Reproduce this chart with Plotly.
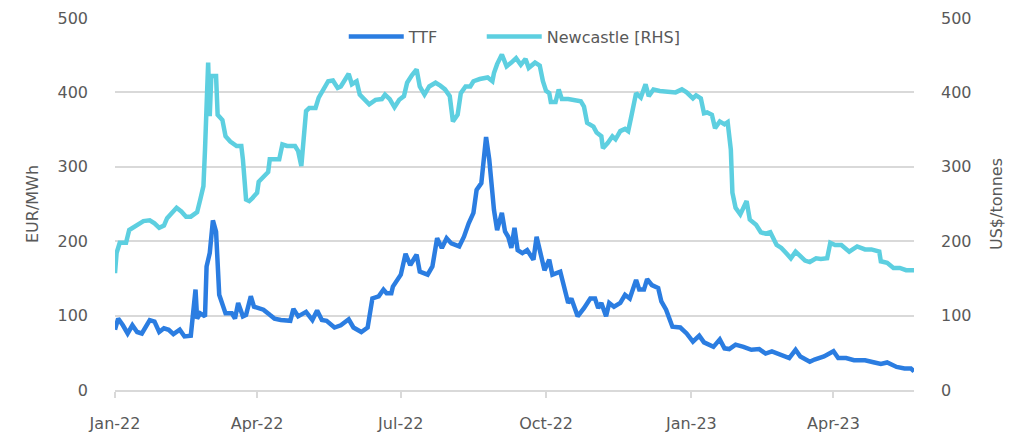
import plotly.graph_objects as go

ttf_dates = [
    "2022-01-01", "2022-01-03", "2022-01-06", "2022-01-09", "2022-01-12", "2022-01-15", "2022-01-18",
    "2022-01-23", "2022-01-26", "2022-01-29", "2022-02-01", "2022-02-04", "2022-02-07", "2022-02-11",
    "2022-02-14", "2022-02-18", "2022-02-21", "2022-02-22", "2022-02-24", "2022-02-27", "2022-02-28",
    "2022-03-02", "2022-03-04", "2022-03-06", "2022-03-08", "2022-03-10", "2022-03-12", "2022-03-16",
    "2022-03-18", "2022-03-20", "2022-03-23", "2022-03-25", "2022-03-28", "2022-03-30", "2022-04-05",
    "2022-04-09", "2022-04-12", "2022-04-16", "2022-04-22", "2022-04-24", "2022-04-27", "2022-05-02",
    "2022-05-06", "2022-05-09", "2022-05-12", "2022-05-15", "2022-05-20", "2022-05-24", "2022-05-29",
    "2022-06-01", "2022-06-06", "2022-06-10", "2022-06-13", "2022-06-17", "2022-06-20", "2022-06-22",
    "2022-06-25", "2022-06-26", "2022-07-01", "2022-07-04", "2022-07-07", "2022-07-11", "2022-07-13",
    "2022-07-18", "2022-07-21", "2022-07-24", "2022-07-27", "2022-07-30", "2022-08-02", "2022-08-07",
    "2022-08-10", "2022-08-13", "2022-08-16", "2022-08-18", "2022-08-21", "2022-08-24", "2022-08-26",
    "2022-08-28", "2022-08-29", "2022-08-31", "2022-09-03", "2022-09-05", "2022-09-07", "2022-09-09",
    "2022-09-11", "2022-09-13", "2022-09-16", "2022-09-19", "2022-09-23", "2022-09-25", "2022-09-28",
    "2022-09-30", "2022-10-03", "2022-10-05", "2022-10-10", "2022-10-13", "2022-10-15", "2022-10-17",
    "2022-10-21", "2022-10-25", "2022-10-29", "2022-11-01", "2022-11-03", "2022-11-05", "2022-11-08",
    "2022-11-10", "2022-11-13", "2022-11-17", "2022-11-20", "2022-11-23", "2022-11-27", "2022-11-29",
    "2022-12-02", "2022-12-04", "2022-12-07", "2022-12-11", "2022-12-13", "2022-12-16", "2022-12-20",
    "2022-12-25", "2022-12-29", "2023-01-02", "2023-01-06", "2023-01-09", "2023-01-15", "2023-01-19",
    "2023-01-22", "2023-01-25", "2023-01-29", "2023-02-03", "2023-02-08", "2023-02-13", "2023-02-17",
    "2023-02-21", "2023-02-27", "2023-03-04", "2023-03-08", "2023-03-11", "2023-03-17", "2023-03-20",
    "2023-03-26", "2023-04-01", "2023-04-04", "2023-04-09", "2023-04-14", "2023-04-21", "2023-04-27",
    "2023-05-01", "2023-05-05", "2023-05-11", "2023-05-16", "2023-05-20", "2023-05-22",
]
ttf_values = [
    81, 96, 87, 76, 87, 78, 76,
    94, 92, 78, 83, 81, 75, 81,
    72, 73, 135, 96, 103, 99, 166,
    184, 228, 213, 128, 117, 103, 103,
    96, 117, 99, 101, 126, 112, 108,
    101, 96, 94, 93, 109, 99, 105,
    94, 107, 94, 93, 84, 87, 95,
    84, 78, 84, 123, 126, 135, 130,
    130, 139, 155, 183, 168, 182, 159,
    155, 166, 204, 191, 204, 197, 193,
    206, 224, 238, 269, 278, 340, 310,
    265, 242, 215, 238, 213, 206, 191,
    218, 188, 184, 188, 175, 206, 177,
    161, 175, 155, 159, 135, 117, 123,
    99, 110, 123, 123, 110, 117, 99,
    117, 112, 117, 128, 123, 148, 135,
    135, 149, 141, 137, 119, 108, 85,
    84, 76, 65, 73, 64, 58, 68,
    56, 55, 61, 58, 54, 55, 49,
    52, 47, 43, 54, 45, 38, 41,
    45, 52, 43, 43, 40, 40, 37,
    35, 37, 31, 29, 29, 25,
]

nc_dates = [
    "2022-01-01", "2022-01-02", "2022-01-04", "2022-01-08", "2022-01-10", "2022-01-15", "2022-01-19",
    "2022-01-23", "2022-01-26", "2022-01-29", "2022-02-01", "2022-02-03", "2022-02-06", "2022-02-09",
    "2022-02-12", "2022-02-15", "2022-02-18", "2022-02-22", "2022-02-24", "2022-02-26", "2022-02-27",
    "2022-03-01", "2022-03-02", "2022-03-03", "2022-03-06", "2022-03-07", "2022-03-10", "2022-03-12",
    "2022-03-15", "2022-03-19", "2022-03-22", "2022-03-23", "2022-03-25", "2022-03-27", "2022-03-29",
    "2022-04-01", "2022-04-02", "2022-04-05", "2022-04-08", "2022-04-09", "2022-04-12", "2022-04-15",
    "2022-04-17", "2022-04-20", "2022-04-25", "2022-04-27", "2022-04-29", "2022-05-01", "2022-05-02",
    "2022-05-04", "2022-05-08", "2022-05-10", "2022-05-13", "2022-05-16", "2022-05-19", "2022-05-22",
    "2022-05-24", "2022-05-29", "2022-05-31", "2022-06-03", "2022-06-05", "2022-06-08", "2022-06-11",
    "2022-06-15", "2022-06-19", "2022-06-21", "2022-06-24", "2022-06-27", "2022-06-30", "2022-07-03",
    "2022-07-05", "2022-07-08", "2022-07-11", "2022-07-13", "2022-07-16", "2022-07-19", "2022-07-23",
    "2022-07-26", "2022-07-29", "2022-08-01", "2022-08-03", "2022-08-06", "2022-08-08", "2022-08-11",
    "2022-08-14", "2022-08-16", "2022-08-20", "2022-08-25", "2022-08-28", "2022-08-29", "2022-08-31",
    "2022-09-03", "2022-09-06", "2022-09-09", "2022-09-12", "2022-09-15", "2022-09-18", "2022-09-20",
    "2022-09-24", "2022-09-27", "2022-09-29", "2022-10-01", "2022-10-03", "2022-10-04", "2022-10-07",
    "2022-10-09", "2022-10-11", "2022-10-15", "2022-10-19", "2022-10-23", "2022-10-25", "2022-10-27",
    "2022-10-31", "2022-11-02", "2022-11-05", "2022-11-06", "2022-11-09", "2022-11-12", "2022-11-14",
    "2022-11-17", "2022-11-20", "2022-11-22", "2022-11-24", "2022-11-26", "2022-11-27", "2022-11-30",
    "2022-12-03", "2022-12-05", "2022-12-08", "2022-12-12", "2022-12-18", "2022-12-22", "2022-12-26",
    "2022-12-29", "2023-01-02", "2023-01-04", "2023-01-07", "2023-01-09", "2023-01-11", "2023-01-14",
    "2023-01-16", "2023-01-19", "2023-01-22", "2023-01-24", "2023-01-26", "2023-01-27", "2023-01-29",
    "2023-02-01", "2023-02-05", "2023-02-07", "2023-02-11", "2023-02-14", "2023-02-17", "2023-02-20",
    "2023-02-24", "2023-02-27", "2023-03-02", "2023-03-05", "2023-03-08", "2023-03-11", "2023-03-14",
    "2023-03-17", "2023-03-21", "2023-03-24", "2023-03-28", "2023-03-30", "2023-04-02", "2023-04-06",
    "2023-04-11", "2023-04-16", "2023-04-21", "2023-04-25", "2023-04-30", "2023-05-01", "2023-05-05",
    "2023-05-09", "2023-05-13", "2023-05-17", "2023-05-22",
]
nc_values = [
    157, 184, 198, 198, 215, 222, 227,
    228, 224, 218, 221, 231, 238, 245,
    240, 233, 233, 239, 256, 274, 323,
    440, 368, 422, 422, 370, 363, 341,
    334, 328, 328, 310, 256, 254, 258,
    265, 280, 287, 293, 310, 310, 310,
    330, 328, 328, 321, 301, 354, 375,
    379, 379, 393, 404, 415, 416, 406,
    408, 425, 411, 415, 397, 390, 384,
    390, 391, 397, 391, 380, 390, 395,
    413, 423, 431, 408, 397, 408, 413,
    409, 404, 395, 361, 370, 399, 408,
    408, 415, 418, 420, 415, 426, 438,
    451, 435, 440, 446, 437, 445, 433,
    440, 436, 415, 402, 399, 387, 387,
    404, 391, 391, 390, 388, 381, 359,
    354, 346, 341, 325, 332, 341, 337,
    348, 351, 348, 368, 386, 399, 393,
    411, 395, 404, 402, 400, 400, 404,
    400, 392, 396, 392, 372, 373, 370,
    352, 361, 357, 360, 323, 265, 245,
    236, 254, 229, 222, 212, 210, 212,
    195, 191, 184, 177, 186, 180, 174,
    172, 177, 176, 177, 198, 195, 195,
    186, 193, 189, 189, 186, 173, 171,
    164, 164, 161, 161,
]

tick_dates = ["2022-01-01", "2022-04-01", "2022-07-01", "2022-10-01", "2023-01-01", "2023-04-01"]
tick_labels = ["Jan-22", "Apr-22", "Jul-22", "Oct-22", "Jan-23", "Apr-23"]
y_ticks = [0, 100, 200, 300, 400, 500]

FONT = "DejaVu Sans"
GREY = "#595959"
GRID = "#d9d9d9"

fig = go.Figure()
fig.add_trace(go.Scatter(x=ttf_dates, y=ttf_values, name="TTF", mode="lines", legend="legend",
                         line=dict(color="#2B7DE1", width=4.5)))
fig.add_trace(go.Scatter(x=nc_dates, y=nc_values, name="Newcastle [RHS]", mode="lines", yaxis="y2",
                         legend="legend2", line=dict(color="#5DCFE0", width=4.5)))

legend_style = dict(orientation="h", xanchor="left", y=0.95, yanchor="middle",
                    bgcolor="rgba(0,0,0,0)", font=dict(size=16, color=GREY), itemwidth=55)

# page has an 8px body margin, so the figure is sized to the remaining window
fig.update_layout(
    width=1017, height=430,
    margin=dict(l=107, r=111, t=10, b=48, autoexpand=False),
    paper_bgcolor="white", plot_bgcolor="white",
    font=dict(family=FONT, size=15, color=GREY),
    showlegend=True,
    legend=dict(x=0.2863, **legend_style),
    legend2=dict(x=0.459, **legend_style),
    xaxis=dict(type="date", range=["2022-01-01", "2023-05-22"], automargin=False,
               tickvals=tick_dates, ticktext=tick_labels,
               ticks="outside", ticklen=6, tickcolor=GRID, tickwidth=1.5,
               showline=True, linecolor=GRID, linewidth=1.5, showgrid=False,
               tickfont=dict(size=16, color=GREY), ticklabelstandoff=12),
    yaxis=dict(range=[0, 500], tickvals=y_ticks, showgrid=True, gridcolor=GRID, gridwidth=1.5,
               zeroline=False, showline=False, tickfont=dict(size=16, color=GREY),
               ticklabelstandoff=26, automargin=False,
               title=dict(text="EUR/MWh", font=dict(size=16, color=GREY), standoff=14)),
    yaxis2=dict(range=[0, 500], tickvals=y_ticks, overlaying="y", side="right", showgrid=False,
                zeroline=False, showline=False, tickfont=dict(size=16, color=GREY),
                ticklabelstandoff=26, automargin=False,
                title=dict(text="US$/tonnes", font=dict(size=16, color=GREY), standoff=20)),
)

fig.write_html("out.html")
